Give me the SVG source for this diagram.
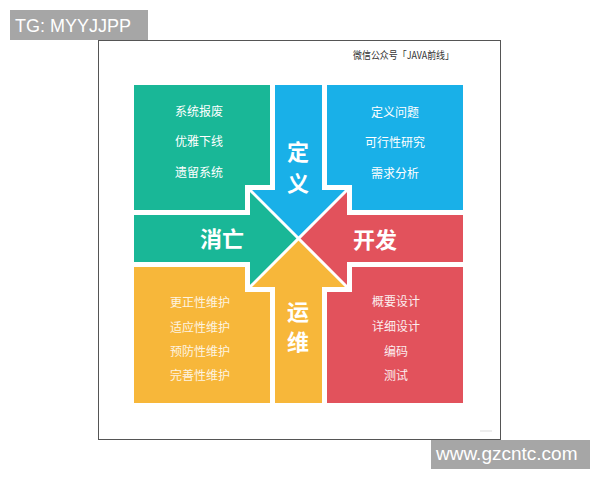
<svg xmlns="http://www.w3.org/2000/svg" width="600" height="480" viewBox="0 0 600 480">
<style>
.sm{font-family:"Noto Sans CJK SC","Noto Sans",sans-serif;font-size:12px;fill:#ffffff;text-anchor:middle}
.big{font-family:"Noto Sans CJK SC","Noto Sans",sans-serif;font-size:22px;font-weight:bold;fill:#ffffff;text-anchor:middle}
.g{fill:#19b797}.b{fill:#19b0e8}.r{fill:#e2525c}.y{fill:#f7b73a}
.lbl{font-family:"Liberation Sans",Arial,sans-serif;fill:#ffffff}
</style>
<rect x="0" y="0" width="600" height="480" fill="#ffffff"/>
<rect x="98.5" y="40.5" width="402" height="399" fill="#ffffff" stroke="#555555" stroke-width="1"/>
<g id="watermark-top">
<rect x="10" y="10" width="138" height="30" fill="#a6a6a6"/>
<text class="lbl" x="15" y="32" font-size="18">TG: MYYJJPP</text>
</g>
<g id="watermark-bottom">
<rect x="431" y="440" width="159" height="29" fill="#a6a6a6"/>
<text class="lbl" x="436" y="460" font-size="19">www.gzcntc.com</text>
</g>
<text x="353" y="59" font-family="'Noto Sans CJK SC','Noto Sans',sans-serif" font-size="10.5" fill="#333333" textLength="101" lengthAdjust="spacingAndGlyphs">微信公众号「JAVA前线」</text>
<line x1="480" y1="431" x2="492" y2="431" stroke="#dddddd" stroke-width="1"/>

<g id="block-tl">
<polygon class="g" points="134,85 270,85 270,185 245,185 245,210 134,210"/>
<text class="sm" x="199" y="116">系统报废</text>
<text class="sm" x="199" y="146">优雅下线</text>
<text class="sm" x="199" y="177">遗留系统</text>
</g>
<g id="block-tr">
<polygon class="b" points="327,85 463,85 463,210 352,210 352,185 327,185"/>
<text class="sm" x="395" y="117">定义问题</text>
<text class="sm" x="395" y="147">可行性研究</text>
<text class="sm" x="395" y="178">需求分析</text>
</g>
<g id="block-bl">
<polygon class="y" points="134,267 245,267 245,292 270,292 270,403 134,403"/>
<g opacity="0.85">
<text class="sm" x="200" y="307">更正性维护</text>
<text class="sm" x="200" y="332">适应性维护</text>
<text class="sm" x="200" y="356">预防性维护</text>
<text class="sm" x="200" y="380">完善性维护</text>
</g>
</g>
<g id="block-br">
<polygon class="r" points="352,267 463,267 463,403 327,403 327,292 352,292"/>
<g opacity="0.9">
<text class="sm" x="396" y="306">概要设计</text>
<text class="sm" x="396" y="331">详细设计</text>
<text class="sm" x="396" y="356">编码</text>
<text class="sm" x="396" y="380">测试</text>
</g>
</g>

<g id="connectors">
<g id="arrow-define">
<polygon class="b" points="275,85 322,85 322,190 347,190 298.5,238.5 250,190 275,190"/>
<text class="big" x="298" y="160">定</text>
<text class="big" x="298" y="191">义</text>
</g>
<g id="arrow-dev">
<polygon class="r" points="463,215 463,262 347,262 347,287 298.5,238.5 347,190 347,215"/>
<text class="big" x="375" y="248">开发</text>
</g>
<g id="arrow-ops">
<polygon class="y" points="322,403 275,403 275,287 250,287 298.5,238.5 347,287 322,287"/>
<text class="big" x="298" y="320">运</text>
<text class="big" x="298" y="350">维</text>
</g>
<g id="arrow-end">
<polygon class="g" points="134,262 134,215 250,215 250,190 298.5,238.5 250,287 250,262"/>
<text class="big" x="222" y="247">消亡</text>
</g>
<line x1="250" y1="190" x2="347" y2="287" stroke="#ffffff" stroke-width="3"/>
<line x1="347" y1="190" x2="250" y2="287" stroke="#ffffff" stroke-width="3"/>
</g>
</svg>
